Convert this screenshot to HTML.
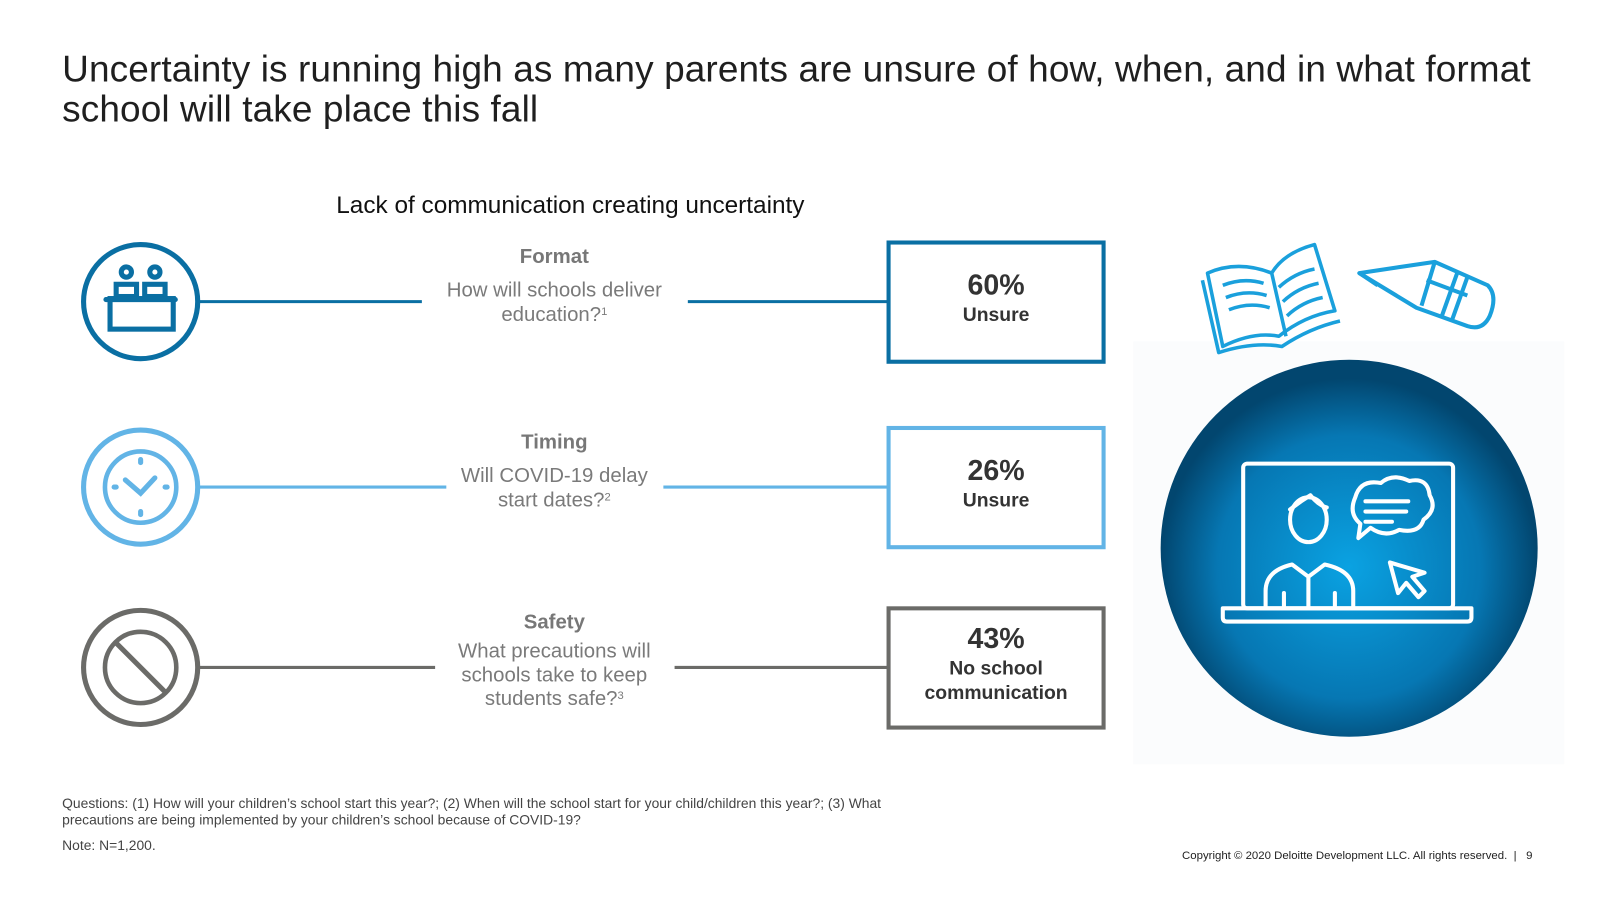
<!DOCTYPE html>
<html><head><meta charset="utf-8"><style>
body{margin:0;width:1600px;height:900px;background:#fff;font-family:"Liberation Sans",sans-serif;overflow:hidden}
#wrap{position:absolute;left:0;top:0;width:1570px;height:883px;transform:scale(1.019);transform-origin:0 0}
.abs{position:absolute}
#title{left:61px;top:48px;font-size:36.3px;line-height:39px;color:#1f1f1f;letter-spacing:0.1px}
#sub{left:330px;top:188px;font-size:23.9px;color:#111}
.hd{font-weight:bold;color:#777;font-size:20px;text-align:center;width:300px}
.q{color:#7a7a7a;font-size:20px;line-height:23.5px;text-align:center;width:300px}
.q sup{font-size:11px;line-height:0;vertical-align:6px}
.box{box-sizing:border-box;border:4px solid;width:215px;height:121px;text-align:center;color:#333;font-weight:bold}
.box .v{font-size:28px;margin-top:24px}
.box .l{font-size:19px;line-height:24px;margin-top:2px}
.foot{left:61px;font-size:13.6px;color:#444;line-height:16px}
</style></head><body><div id="wrap">
<div id="title" class="abs">Uncertainty is running high as many parents are unsure of how, when, and in what format<br>school will take place this fall</div>
<div id="sub" class="abs">Lack of communication creating uncertainty</div>
<svg class="abs" style="left:0;top:0" width="1570" height="883" id="svg">
<defs><radialGradient id="rg" cx="50%" cy="55%" r="50%"><stop offset="0" stop-color="#0aa2e2"/><stop offset="0.7" stop-color="#0677b3"/><stop offset="1" stop-color="#02466f"/></radialGradient></defs>
<rect x="1112" y="335" width="423" height="415" fill="#fbfcfd"/>
<circle cx="1324" cy="538" r="185" fill="url(#rg)"/>
<g fill="none" stroke="#fff" stroke-width="4" stroke-linecap="round" stroke-linejoin="round">
<rect x="1220" y="455" width="206" height="142" rx="4"/>
<path d="M1200 597 H1444 V606 Q1444 610 1440 610 H1204 Q1200 610 1200 606 Z"/>
<ellipse cx="1284" cy="510" rx="18" ry="22"/><path d="M1266 500 q10 -8 20 -14 q8 10 16 12"/>
<path d="M1242 595 V580 Q1242 560 1268 554 L1284 566 L1300 554 Q1328 560 1328 580 V595 M1284 566 V595 M1260 582 V595 M1310 582 V595"/>
<path d="M1330 488 q5 -18 25 -14 q12 -10 28 -2 q18 -4 20 14 q8 14 -6 24 q-4 14 -24 10 q-14 8 -28 -2 l-12 10 l2 -14 q-12 -10 -5 -26z"/>
<path d="M1340 492 H1382 M1340 502 H1380 M1340 512 H1366"/>
<path d="M1364 552 L1372 582 L1380 572 L1392 586 L1398 580 L1386 566 L1398 562 Z"/>
</g>
<g fill="none" stroke="#1aa0dc" stroke-width="3.5" stroke-linejoin="round">
<path d="M1185 268 L1200 340 Q1230 325 1255 330 Q1280 310 1310 305 L1290 240 Q1260 248 1248 268 Q1215 255 1185 268Z"/>
<path d="M1248 268 L1262 330 M1200 280 q20 -8 40 -2 M1203 292 q20 -8 40 -2 M1206 304 q20 -8 40 -2 M1255 282 q15 -14 35 -18 M1259 296 q15 -14 35 -18 M1263 310 q15 -14 35 -18"/>
<path d="M1180 275 L1196 346 Q1230 335 1258 340 Q1285 322 1315 315"/>
</g>
<g fill="none" stroke="#1aa0dc" stroke-width="4" stroke-linejoin="round">
<path d="M1334 268 L1408 257 L1460 280 Q1470 290 1462 310 Q1455 325 1440 320 L1390 302 Z"/>
<path d="M1334 268 L1352 280 M1408 257 L1395 300 M1430 268 L1415 310 M1440 272 L1425 314 M1400 275 L1440 290"/>
</g>
</svg>
<div class="abs foot" style="top:781px">Questions: (1) How will your children’s school start this year?; (2) When will the school start for your child/children this year?; (3) What<br>precautions are being implemented by your children’s school because of COVID-19?</div>
<div class="abs foot" style="top:822px">Note: N=1,200.</div>
<div class="abs" style="left:1160px;top:834px;font-size:11.2px;color:#222">Copyright © 2020 Deloitte Development LLC. All rights reserved. &nbsp;| &nbsp; 9</div>
</div>
<script>
const categories=["Format","Timing","Safety"];
const questions=["How will schools deliver<br>education?<sup>1</sup>","Will COVID-19 delay<br>start dates?<sup>2</sup>","What precautions will<br>schools take to keep<br>students safe?<sup>3</sup>"];
const values=[60,26,43];
const valueLabels=["Unsure","Unsure","No school<br>communication"];
const colors=["#0a6fa3","#62b4e6","#6b6b68"];
const rowY=[296,478,655];
const svg=document.getElementById('svg');
const wrap=document.getElementById('wrap');
const NS="http://www.w3.org/2000/svg";
function mk(t,a){const e=document.createElementNS(NS,t);for(const k in a)e.setAttribute(k,a[k]);svg.appendChild(e);return e;}
const textGap=[[414,675],[438,651],[427,662]];
categories.forEach((c,i)=>{
 const y=rowY[i],col=colors[i];
 const ring=mk('circle',{cx:138,cy:y,r:56,fill:'none',stroke:col,'stroke-width':5});
 
 
 const l1=mk('line',{x1:194,y1:y,x2:textGap[i][0],y2:y,stroke:col,'stroke-width':3});
 
 
 const l2=mk('line',{x1:textGap[i][1],y1:y,x2:872,y2:y,stroke:col,'stroke-width':3});
 
 
 const g=mk('g',{fill:'none',stroke:col,'stroke-width':5,'stroke-linecap':'round'});
 
 
 if(i==0){g.innerHTML=`<circle cx="124" cy="${y-29}" r="5"/><circle cx="152" cy="${y-29}" r="5"/><rect x="114" y="${y-17}" width="20" height="12"/><rect x="142" y="${y-17}" width="20" height="12"/><rect x="108" y="${y-3}" width="62" height="30"/><line x1="104" y1="${y-2}" x2="172" y2="${y-2}"/>`;}
 else if(i==1){g.innerHTML=`<circle cx="138" cy="${y}" r="35" stroke-width="4.5"/><path d="M123 ${y-7} L138 ${y+6} L152 ${y-9}"/><line x1="138" y1="${y-27}" x2="138" y2="${y-24}"/><line x1="138" y1="${y+24}" x2="138" y2="${y+27}"/><line x1="112" y1="${y}" x2="114" y2="${y}"/><line x1="162" y1="${y}" x2="164" y2="${y}"/>`;}
 else {g.innerHTML=`<circle cx="138" cy="${y}" r="35" stroke-width="4.5"/><line x1="115" y1="${y-23}" x2="161" y2="${y+23}" stroke-width="5"/>`;}
 const h=document.createElement('div');h.className='abs hd';h.style.left='394px';h.style.top=(y-55)+'px';h.textContent=c;
 
 
 wrap.appendChild(h);
 const q=document.createElement('div');q.className='abs q';q.style.left='394px';q.style.top=(y-22-(i==2?5:0))+'px';q.innerHTML=questions[i];
 
 
 wrap.appendChild(q);
 const b=document.createElement('div');b.className='abs box';b.style.left='870px';b.style.top=(y-60)+'px';b.style.borderColor=col;
 b.innerHTML=`<div class="v">${values[i]}%</div><div class="l">${valueLabels[i]}</div>`;
 if(i==2)b.querySelector('.v').style.marginTop='12px';
 
 
 wrap.appendChild(b);
});
</script>
</body></html>
